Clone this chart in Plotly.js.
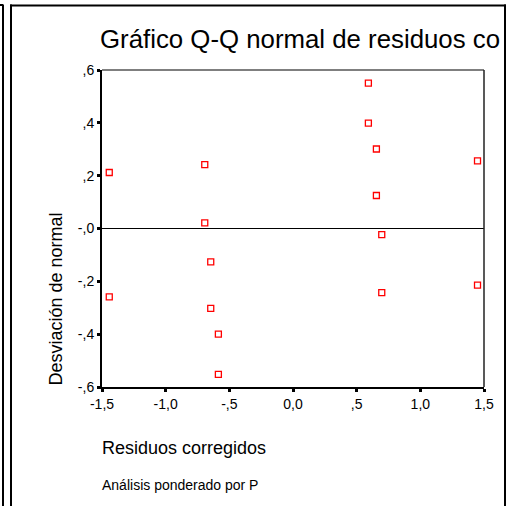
<!DOCTYPE html>
<html>
<head>
<meta charset="utf-8">
<script src="https://cdn.plot.ly/plotly-3.0.1.min.js"></script>
<style>
  html, body { margin: 0; padding: 0; background: #fff; }
  #chart { width: 508px; height: 506px; }
</style>
</head>
<body>
<div id="chart"></div>
<script>
// ---- Data ----
const residuosCorregidos = [-1.443, -1.443, -0.693, -0.693, -0.646, -0.646, -0.586, -0.586,
                            0.592, 0.592, 0.655, 0.655, 0.697, 0.697, 1.449, 1.449];
const desviacionNormal   = [0.212, -0.259, 0.242, 0.021, -0.126, -0.302, -0.400, -0.552,
                            0.550, 0.399, 0.301, 0.125, -0.023, -0.243, 0.256, -0.214];

const xTickVals = [-1.5, -1.0, -0.5, 0.0, 0.5, 1.0, 1.5];
const xTickText = ["-1,5", "-1,0", "-,5", "0,0", ",5", "1,0", "1,5"];
const yTickVals = [0.6, 0.4, 0.2, 0.0, -0.2, -0.4, -0.6];
const yTickText = [",6", ",4", ",2", "-,0", "-,2", "-,4", "-,6"];

const titleText = "Gráfico Q-Q normal de residuos co";
const xTitleText = "Residuos corregidos";
const yTitleText = "Desviación de normal";
const footText = "Análisis ponderado por P";

// ---- Layout geometry ----
const W = 508, H = 506;
const M = { l: 102, r: 24, t: 70, b: 119 };
const PW = W - M.l - M.r, PH = H - M.t - M.b;
const px = v => (v - M.l) / PW;          // pixel x -> paper x
const py = v => (H - M.b - v) / PH;      // pixel y -> paper y

const FONT = "Liberation Sans, Arial, Helvetica, sans-serif";

const trace = {
  type: "scatter",
  mode: "markers",
  x: residuosCorregidos,
  y: desviacionNormal,
  marker: { symbol: "square-open", size: 6, color: "#ff0000", line: { width: 1.3, color: "#ff0000" } },
  hoverinfo: "x+y",
  showlegend: false
};

const blackLine = { color: "#000", width: 2 };
const shapes = [
  // neighbouring panel edge
  { type: "line", xref: "paper", yref: "paper", x0: px(3), x1: px(3), y0: py(4.5), y1: py(520), line: blackLine },
  { type: "line", xref: "paper", yref: "paper", x0: px(-5), x1: px(3), y0: py(5), y1: py(5), line: blackLine },
  // main frame
  { type: "line", xref: "paper", yref: "paper", x0: px(11), x1: px(11), y0: py(4.5), y1: py(520), line: blackLine },
  { type: "line", xref: "paper", yref: "paper", x0: px(10), x1: px(506), y0: py(5.5), y1: py(5.5), line: blackLine },
  { type: "line", xref: "paper", yref: "paper", x0: px(505), x1: px(505), y0: py(4.5), y1: py(520), line: blackLine },
  // plot box top and right
  { type: "line", xref: "paper", yref: "paper", x0: 0, x1: 1, y0: 1, y1: 1, line: { color: "#555", width: 1.5 } },
  { type: "line", xref: "paper", yref: "paper", x0: 1, x1: 1, y0: 0, y1: 1, line: { color: "#222", width: 1.5 } }
];

const annotations = [
  { text: xTitleText, xref: "paper", yref: "paper", x: px(100), y: py(448), xanchor: "left", yanchor: "middle",
    showarrow: false, font: { family: FONT, size: 18, color: "#000" } },
  { text: yTitleText, xref: "paper", yref: "paper", x: px(55), y: py(299.5), xanchor: "center", yanchor: "middle",
    textangle: -90, showarrow: false, font: { family: FONT, size: 18, color: "#000" } },
  { text: footText, xref: "paper", yref: "paper", x: px(100), y: py(485), xanchor: "left", yanchor: "middle",
    showarrow: false, font: { family: FONT, size: 14, color: "#000" } }
];

const layout = {
  width: W, height: H,
  margin: M,
  paper_bgcolor: "#fff",
  plot_bgcolor: "#fff",
  font: { family: FONT, color: "#000" },
  title: {
    text: titleText,
    font: { family: FONT, size: 25.8, color: "#000" },
    xref: "container", yref: "container",
    x: 100 / W, xanchor: "left",
    y: 1 - 39 / H, yanchor: "middle"
  },
  xaxis: {
    range: [-1.5, 1.5],
    tickmode: "array", tickvals: xTickVals, ticktext: xTickText,
    ticks: "outside", ticklen: 3, tickwidth: 3, tickcolor: "#000",
    showline: true, linecolor: "#000", linewidth: 2,
    showgrid: false, zeroline: false,
    tickfont: { family: FONT, size: 14, color: "#000" }
  },
  yaxis: {
    range: [-0.6, 0.6],
    tickmode: "array", tickvals: yTickVals, ticktext: yTickText,
    ticks: "outside", ticklen: 3, tickwidth: 3, tickcolor: "#000",
    showline: true, linecolor: "#000", linewidth: 2,
    showgrid: false, zeroline: true, zerolinecolor: "#000", zerolinewidth: 1.5,
    tickfont: { family: FONT, size: 14, color: "#000" }
  },
  shapes: shapes,
  annotations: annotations
};

Plotly.newPlot("chart", [trace], layout, { displayModeBar: false, staticPlot: true });
</script>
</body>
</html>
